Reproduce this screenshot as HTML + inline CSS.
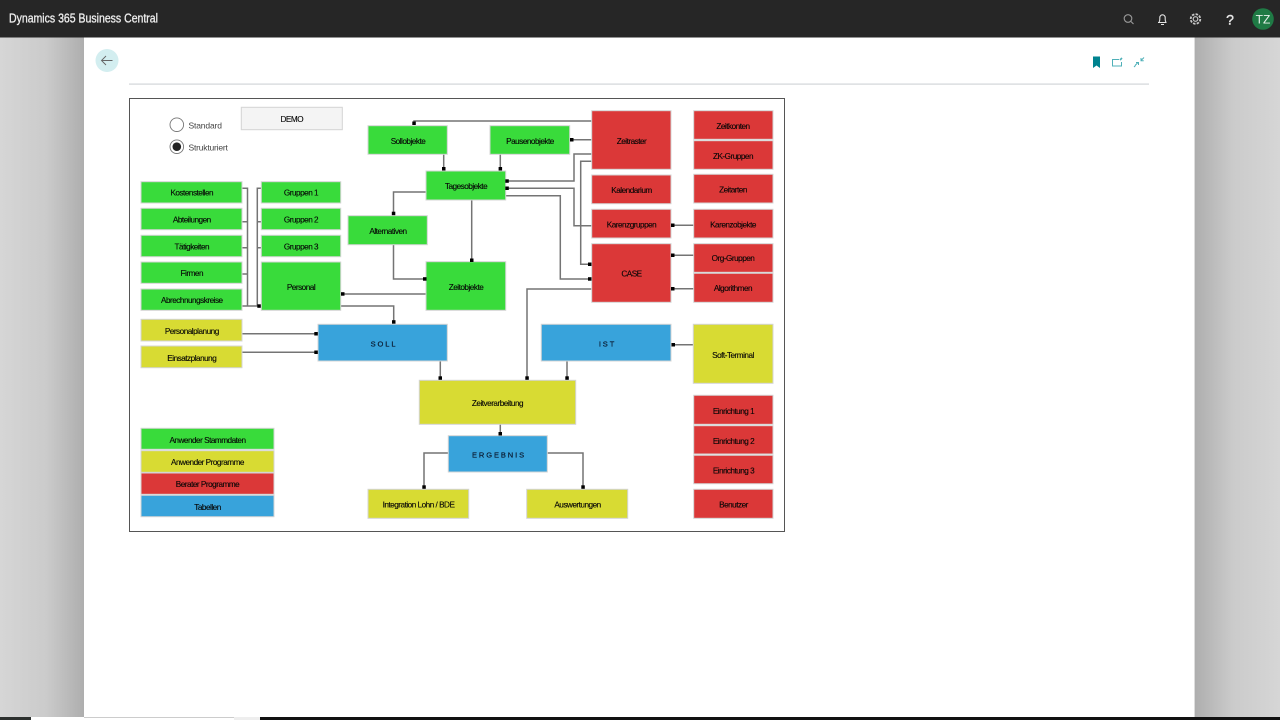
<!DOCTYPE html>
<html lang="de"><head><meta charset="utf-8"><title>Dynamics 365 Business Central</title>
<style>
html,body{margin:0;padding:0;width:1280px;height:720px;overflow:hidden;background:#fff}
svg{display:block;position:absolute;left:0;top:0}
text{font-family:"Liberation Sans",sans-serif}
#d{filter:blur(.25px)}
#d text{font-size:8.2px;text-anchor:middle;fill:#060606;stroke:#060606;stroke-width:.12px;letter-spacing:-.5px}
#d text.w{font-size:7.5px;letter-spacing:1.9px;fill:#0a1a30;stroke:#0a1a30;stroke-width:.2px}
#b rect{stroke:#d4d4d4;stroke-width:1}
.g{fill:#39db3b}.y{fill:#d8db33}.r{fill:#db3838}.u{fill:#38a3db}
#l path{fill:none;stroke:#747474;stroke-width:1.5}
#s rect{fill:#000}
</style></head><body>
<svg width="1280" height="720" viewBox="0 0 1280 720" xmlns="http://www.w3.org/2000/svg">
<defs>
<linearGradient id="gl" x1="0" x2="1" y1="0" y2="0"><stop offset="0" stop-color="#d6d6d6"/><stop offset=".55" stop-color="#cbcbcb"/><stop offset="1" stop-color="#aeaeae"/></linearGradient>
<linearGradient id="gr" x1="0" x2="1" y1="0" y2="0"><stop offset="0" stop-color="#aeaeae"/><stop offset=".45" stop-color="#cbcbcb"/><stop offset="1" stop-color="#d6d6d6"/></linearGradient>
</defs>
<rect x="0" y="37" width="84" height="680" fill="url(#gl)"/>
<rect x="1195" y="37" width="85" height="680" fill="url(#gr)"/>
<rect x="84" y="37" width="1111" height="680" fill="#fff"/>
<rect x="1194" y="37" width="1" height="680" fill="#ddd"/>
<rect x="0" y="0" width="1280" height="37.5" fill="#262626"/>
<text x="9" y="22.5" font-size="12.5" fill="#eee" stroke="#eee" stroke-width=".3" textLength="149" lengthAdjust="spacingAndGlyphs">Dynamics 365 Business Central</text>
<!-- bottom strip -->
<rect x="0" y="717" width="1280" height="3" fill="#111"/>
<rect x="0" y="717" width="31" height="3" fill="#2c302e"/>
<rect x="31" y="717" width="229" height="3" fill="#fff"/>
<rect x="234" y="717" width="26" height="3" fill="#eee"/>
<rect x="84" y="717" width="150" height="1" fill="#ccc"/>
<!-- header icons -->
<g fill="none" stroke="#9a9a9a" stroke-width="1.1"><circle cx="1128" cy="18.5" r="3.8"/><path d="M1131 21.5l2.5 2.5"/></g>
<g fill="none" stroke="#e4e4e4" stroke-width="1.1"><path d="M1158 22.5h8.5M1159 22c1-1 .8-2.5.8-4.5a2.7 2.7 0 0 1 5.4 0c0 2-.2 3.5.8 4.5M1161 24.5h3"/></g>
<g fill="none" stroke="#c8c8c8" stroke-width="1.2"><circle cx="1195.5" cy="19" r="2.3"/><circle cx="1195.5" cy="19" r="4.8" stroke-dasharray="2.5 1.26" stroke-width="1.8"/></g>
<text x="1230" y="24.5" font-size="14" fill="#e8e8e8" stroke="#e8e8e8" stroke-width=".4" text-anchor="middle">?</text>
<circle cx="1263" cy="19" r="10.8" fill="#1f7a45"/>
<text x="1263" y="23.5" font-size="12" fill="#e8f2ec" text-anchor="middle">TZ</text>
<!-- back -->
<circle cx="107" cy="60.5" r="11.5" fill="#d3eef0"/>
<path d="M112.5 60.500h-10.500M106 56l-4.500 4.500 4.500 4.500" fill="none" stroke="#666" stroke-width=".9"/>
<!-- page actions -->
<path d="M1093 56.500h7v11.500l-3.500-2.500-3.500 2.500z" fill="#00838f"/>
<g fill="none" stroke="#4fb0b8" stroke-width="1"><path d="M1119 59.500h-6.500v6.500h9v-4"/><path d="M1120 60l2-2" stroke-width="1.600"/><path d="M1135 65.500l3-3M1134 67l1.500-1.500M1136 62.500h2.500v2.500M1141 60.500l3-3M1141 58v2.700h2.700"/></g>
<rect x="129" y="83.500" width="1020" height="1.200" fill="#d2d6d8"/>

<!-- diagram frame -->
<rect x="129.500" y="98.500" width="655" height="433" fill="#fff" stroke="#555" stroke-width="1"/>
<g id="d">
<g id="l">
<path d="M242 188.300h5.500V306M242 221.700h5.500M242 247.700h5.500M242 274h5.500M242 306h17"/>
<path d="M261 188.300h-3.700V306M261 221.700h-3.700M261 247.700h-3.700"/>
<path d="M426 294H343"/>
<path d="M341 306h52.700v16"/>
<path d="M426 192h-32.500v21.500"/>
<path d="M393.500 245v34H425"/>
<path d="M443.700 154v14.700"/>
<path d="M592 121H414v2.300"/>
<path d="M500.300 154v14.700"/>
<path d="M592 139.700h-20.300"/>
<path d="M592 154h-18v27h-67"/>
<path d="M507 188.300h67v37.400h18"/>
<path d="M592 161.300h-11.300v103h9"/>
<path d="M505 195.700h55.300V279h29.400"/>
<path d="M592 289h-65v89"/>
<path d="M471.700 200v60"/>
<path d="M694 225.300h-21"/>
<path d="M694 255.300h-21"/>
<path d="M694 288.700h-21"/>
<path d="M242 333.700h74"/>
<path d="M242 352.300h74"/>
<path d="M440.300 361v17"/>
<path d="M567 361v17"/>
<path d="M694 344.700h-21"/>
<path d="M500.300 424v10"/>
<path d="M448 453h-24v34"/>
<path d="M547 453h36v34"/>
</g>
<g id="b">
<rect class="g" x="141" y="181.700" width="101" height="21.300"/>
<rect class="g" x="141" y="208.300" width="101" height="21.400"/>
<rect class="g" x="141" y="235.300" width="101" height="21.400"/>
<rect class="g" x="141" y="262" width="101" height="21.300"/>
<rect class="g" x="141" y="289" width="101" height="21.300"/>
<rect class="g" x="261.300" y="181.700" width="79.400" height="21.300"/>
<rect class="g" x="261.300" y="208.300" width="79.400" height="21.400"/>
<rect class="g" x="261.300" y="235.300" width="79.400" height="21.400"/>
<rect class="g" x="261.300" y="262" width="79.400" height="48.300"/>
<rect class="g" x="368" y="125.700" width="79.300" height="28.600"/>
<rect class="g" x="490" y="125.700" width="79.700" height="28.600"/>
<rect class="g" x="426" y="171" width="79.700" height="29"/>
<rect class="g" x="348" y="215.700" width="79.300" height="29"/>
<rect class="g" x="426" y="261.700" width="79.700" height="48.600"/>
<rect class="r" x="591.700" y="110.700" width="79.300" height="58.600"/>
<rect class="r" x="591.700" y="175" width="79.300" height="28.700"/>
<rect class="r" x="591.700" y="209.300" width="79.300" height="28.700"/>
<rect class="r" x="591.700" y="243.700" width="79.300" height="58.600"/>
<rect class="r" x="693.700" y="110.700" width="79.300" height="28.600"/>
<rect class="r" x="693.700" y="140.700" width="79.300" height="28.600"/>
<rect class="r" x="693.700" y="174.300" width="79.300" height="28.700"/>
<rect class="r" x="693.700" y="209.300" width="79.300" height="28.700"/>
<rect class="r" x="693.700" y="243.700" width="79.300" height="28.600"/>
<rect class="r" x="693.700" y="273.300" width="79.300" height="29"/>
<rect class="y" x="141" y="319.300" width="101" height="21.700"/>
<rect class="y" x="141" y="346" width="101" height="21.700"/>
<rect class="u" x="318" y="324.300" width="129.300" height="36.700"/>
<rect class="u" x="541.300" y="324.300" width="129.700" height="36.700"/>
<rect class="y" x="693.300" y="324.300" width="79.700" height="59"/>
<rect class="y" x="419.300" y="380.300" width="156.400" height="44"/>
<rect class="u" x="448.300" y="435.700" width="99" height="36.300"/>
<rect class="y" x="368" y="489.300" width="100.700" height="29"/>
<rect class="y" x="526.700" y="489.300" width="101" height="29"/>
<rect class="r" x="693.700" y="395.300" width="79.300" height="29"/>
<rect class="r" x="693.700" y="425.700" width="79.300" height="28.300"/>
<rect class="r" x="693.700" y="455.300" width="79.300" height="28.400"/>
<rect class="r" x="693.700" y="489.300" width="79.300" height="29"/>
<rect class="g" x="141" y="428.300" width="133" height="21"/>
<rect class="y" x="141" y="450.700" width="133" height="21.600"/>
<rect class="r" x="141" y="473" width="133" height="21.300"/>
<rect class="u" x="141" y="495.300" width="133" height="21.400"/>
<rect x="241.300" y="107.300" width="101" height="22.400" fill="#f4f4f4"/>
</g>
<g id="s">
<rect x="257.300" y="304.300" width="3.500" height="3.500"/>
<rect x="341" y="292.200" width="3.500" height="3.500"/>
<rect x="392" y="320.200" width="3.500" height="3.500"/>
<rect x="391.800" y="211.700" width="3.500" height="3.500"/>
<rect x="423" y="277.200" width="3.500" height="3.500"/>
<rect x="442" y="167" width="3.500" height="3.500"/>
<rect x="412.300" y="121.500" width="3.500" height="3.500"/>
<rect x="498.600" y="167" width="3.500" height="3.500"/>
<rect x="570" y="138" width="3.500" height="3.500"/>
<rect x="505.300" y="179.300" width="3.500" height="3.500"/>
<rect x="505.300" y="186.500" width="3.500" height="3.500"/>
<rect x="588" y="262.500" width="3.500" height="3.500"/>
<rect x="588" y="277.200" width="3.500" height="3.500"/>
<rect x="525.300" y="376.300" width="3.500" height="3.500"/>
<rect x="470" y="258.500" width="3.500" height="3.500"/>
<rect x="671" y="223.500" width="3.500" height="3.500"/>
<rect x="671" y="253.500" width="3.500" height="3.500"/>
<rect x="671" y="287" width="3.500" height="3.500"/>
<rect x="314.300" y="332" width="3.500" height="3.500"/>
<rect x="314.300" y="350.500" width="3.500" height="3.500"/>
<rect x="438.500" y="376.300" width="3.500" height="3.500"/>
<rect x="565.300" y="376.300" width="3.500" height="3.500"/>
<rect x="671.500" y="343" width="3.500" height="3.500"/>
<rect x="498.500" y="432" width="3.500" height="3.500"/>
<rect x="422.300" y="485.300" width="3.500" height="3.500"/>
<rect x="581.300" y="485.300" width="3.500" height="3.500"/>
</g>
<text x="191.800" y="195.500">Kostenstellen</text>
<text x="191.800" y="222.500">Abteilungen</text>
<text x="191.800" y="249.300">Tätigkeiten</text>
<text x="191.800" y="276.200">Firmen</text>
<text x="191.800" y="303.200">Abrechnungskreise</text>
<text x="301" y="195.500">Gruppen 1</text>
<text x="301" y="222.500">Gruppen 2</text>
<text x="301" y="249.300">Gruppen 3</text>
<text x="301" y="289.800">Personal</text>
<text x="408" y="144">Sollobjekte</text>
<text x="530" y="144">Pausenobjekte</text>
<text x="466" y="189">Tagesobjekte</text>
<text x="388" y="234">Alternativen</text>
<text x="466" y="290">Zeitobjekte</text>
<text x="631.500" y="144">Zeitraster</text>
<text x="631.500" y="193">Kalendarium</text>
<text x="631.500" y="227.500">Karenzgruppen</text>
<text x="631.500" y="276.500">CASE</text>
<text x="733" y="128.800">Zeitkonten</text>
<text x="733" y="158.800">ZK-Gruppen</text>
<text x="733" y="192.300">Zeitarten</text>
<text x="733" y="227.500">Karenzobjekte</text>
<text x="733" y="261">Org-Gruppen</text>
<text x="733" y="291">Algorithmen</text>
<text x="191.800" y="334">Personalplanung</text>
<text x="191.800" y="360.800">Einsatzplanung</text>
<text class="w" x="384" y="346.500">SOLL</text>
<text class="w" x="607.500" y="346.500">IST</text>
<text x="733" y="358">Soft-Terminal</text>
<text x="497.500" y="406">Zeitverarbeitung</text>
<text class="w" x="499" y="457.500">ERGEBNIS</text>
<text x="418.500" y="507.500">Integration Lohn / BDE</text>
<text x="577.500" y="507.500">Auswertungen</text>
<text x="733.500" y="414">Einrichtung 1</text>
<text x="733.500" y="443.800">Einrichtung 2</text>
<text x="733.500" y="473.300">Einrichtung 3</text>
<text x="733.500" y="507.500">Benutzer</text>
<text x="207.500" y="443">Anwender Stammdaten</text>
<text x="207.500" y="465">Anwender Programme</text>
<text x="207.500" y="487">Berater Programme</text>
<text x="207.500" y="510">Tabellen</text>
<text x="291.800" y="122">DEMO</text>
</g>
<!-- radios -->
<circle cx="176.800" cy="124.700" r="6.800" fill="#fff" stroke="#777" stroke-width=".9"/>
<circle cx="176.800" cy="146.700" r="6.800" fill="#fff" stroke="#777" stroke-width=".9"/>
<circle cx="176.800" cy="146.700" r="4.300" fill="#222"/>
<text x="188.500" y="128.500" font-size="8.500" fill="#444" letter-spacing="-.15">Standard</text>
<text x="188.500" y="150.500" font-size="8.500" fill="#444" letter-spacing="-.2">Strukturiert</text>
</svg>
</body></html>
